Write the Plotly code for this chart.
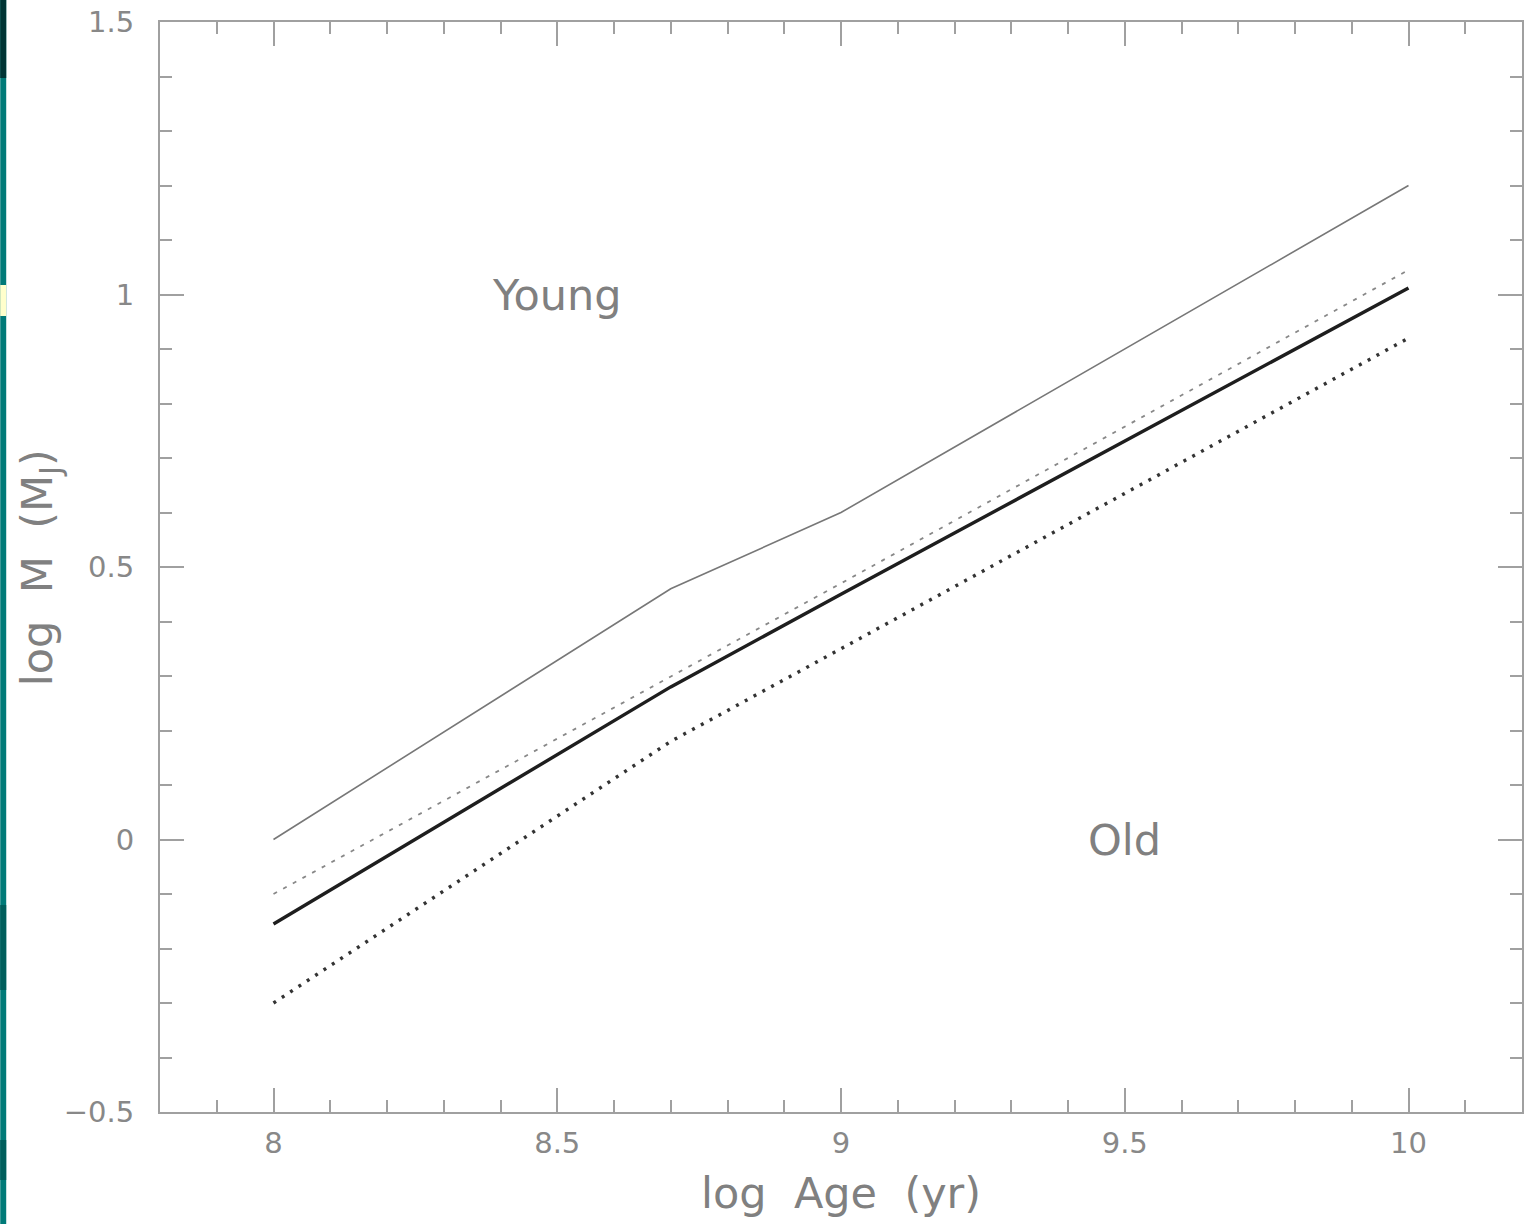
import plotly.graph_objects as go

# log Age (yr) nodes shared by the four boundaries
age = [8.0, 8.7, 9.0, 10.0]

# log M (M_J) boundaries
upper_thin = [0.0, 0.46, 0.60, 1.20]
dashed_mid = [-0.10, 0.30, 0.47, 1.045]
thick_main = [-0.155, 0.28, 0.45, 1.012]
dotted_low = [-0.30, 0.18, 0.35, 0.92]

x_ticks = [8, 8.5, 9, 9.5, 10]
x_tick_text = ["8", "8.5", "9", "9.5", "10"]
y_ticks = [-0.5, 0, 0.5, 1, 1.5]
y_tick_text = ["\u22120.5", "0", "0.5", "1", "1.5"]

W, H = 1524, 1224
ML, MR, MT, MB = 160, 0, 22, 112
PW, PH = W - ML - MR, H - MT - MB

fig = go.Figure()
fig.add_trace(go.Scatter(x=age, y=upper_thin, mode="lines",
                         line=dict(color="#777777", width=1.6)))
fig.add_trace(go.Scatter(x=age, y=dashed_mid, mode="lines",
                         line=dict(color="#888888", width=1.8, dash="4px,7px")))
fig.add_trace(go.Scatter(x=age, y=thick_main, mode="lines",
                         line=dict(color="#1e1e1e", width=3.4)))
fig.add_trace(go.Scatter(x=age, y=dotted_low, mode="lines",
                         line=dict(color="#333333", width=3.4, dash="3px,7px")))

axis_common = dict(
    showgrid=False, zeroline=False,
    showline=True, linecolor="#a0a0a0", linewidth=2,
    mirror="ticks", ticks="inside", ticklen=24, tickwidth=2, tickcolor="#a0a0a0",
    tickfont=dict(family="DejaVu Sans", size=29, color="#888888"),
    minor=dict(ticks="inside", ticklen=12, tickwidth=2, tickcolor="#a0a0a0", dtick=0.1),
)

fig.update_xaxes(range=[7.8, 10.2], tickvals=x_ticks, ticktext=x_tick_text,
                 ticklabelstandoff=4, **axis_common)
fig.update_yaxes(range=[-0.5, 1.5], tickvals=y_ticks, ticktext=y_tick_text,
                 ticklabelstandoff=18, **axis_common)

label_font = dict(family="DejaVu Sans", size=43, color="#808080")
annotations = [
    dict(x=8.5, y=1.0, xref="x", yref="y", text="Young", showarrow=False,
         font=label_font),
    dict(x=9.5, y=0.0, xref="x", yref="y", text="Old", showarrow=False,
         font=label_font),
    dict(x=(842 - ML) / PW, y=(MT + PH - 1193) / PH, xref="paper", yref="paper",
         text="log  Age  (yr)", showarrow=False, font=label_font,
         xanchor="center", yanchor="middle"),
    dict(x=(40 - ML) / PW, y=(MT + PH - 568) / PH, xref="paper", yref="paper",
         text="log  M  (M<sub>J</sub>)", showarrow=False, textangle=-90,
         font=label_font, xanchor="center", yanchor="middle"),
]

# coloured strip along the left edge of the page
def px_rect(x0, y0, x1, y1, color):
    return dict(type="rect", xref="paper", yref="paper",
                x0=(x0 - ML) / PW, x1=(x1 - ML) / PW,
                y0=(MT + PH - y1) / PH, y1=(MT + PH - y0) / PH,
                fillcolor=color, line=dict(width=0), layer="below")

shapes = [
    px_rect(0, 0, 6, 1224, "#007a78"),
    px_rect(0, 0, 6, 78, "#003535"),
    px_rect(0, 285, 6, 316, "#ffffcc"),
    px_rect(0, 905, 6, 990, "#005e5c"),
    px_rect(0, 1140, 6, 1180, "#005e5c"),
]

fig.update_layout(
    width=W, height=H,
    margin=dict(l=ML, r=MR, t=MT, b=MB),
    paper_bgcolor="white", plot_bgcolor="white",
    showlegend=False,
    annotations=annotations,
    shapes=shapes,
)

fig.write_html("out.html")
